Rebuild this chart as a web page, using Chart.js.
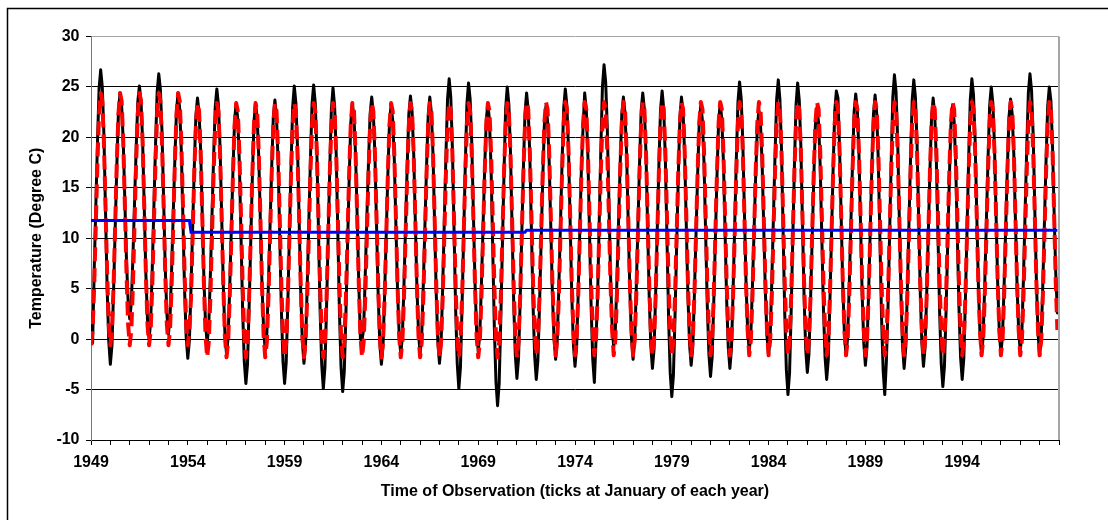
<!DOCTYPE html>
<html>
<head>
<meta charset="utf-8">
<script src="https://cdn.jsdelivr.net/npm/chart.js@4.4.1/dist/chart.umd.min.js"></script>
<style>
html,body{margin:0;padding:0;background:#ffffff;}
#wrap{position:relative;width:1108px;height:520px;}
</style>
</head>
<body>
<div id="wrap"><canvas id="chart"></canvas></div>
<script>
// ---- DATA ----
const yearLabels = ['1949','1954','1959','1964','1969','1974','1979','1984','1989','1994'];
const monthsPerYear = 12;

// Observed monthly temperature (Degree C), one row per year Jan..Dec, 1949-1998
const observed = [
  [2.5, -0.4, 6.9, 13.2, 19.4, 24.8, 26.7, 25.0, 20.3, 12.7, 5.1, -0.2],
  [-2.5, -0.6, 4.8, 11.0, 17.1, 22.5, 24.4, 23.1, 19.5, 13.6, 7.8, 3.8],
  [2.0, 3.6, 8.2, 13.6, 18.9, 23.5, 25.1, 23.6, 19.6, 13.1, 6.5, 2.0],
  [0.0, 1.8, 7.1, 13.2, 19.2, 24.5, 26.3, 24.8, 20.6, 13.9, 7.2, 2.6],
  [0.5, 2.2, 7.0, 12.5, 17.9, 22.7, 24.4, 22.8, 18.6, 11.8, 4.9, 0.2],
  [-1.9, -0.1, 5.1, 11.0, 16.9, 22.1, 23.9, 22.4, 18.6, 12.2, 5.9, 1.5],
  [-0.4, 1.4, 6.4, 12.2, 18.0, 23.0, 24.8, 23.2, 19.0, 12.2, 5.3, 0.6],
  [-1.5, 0.2, 5.2, 11.0, 16.7, 21.7, 23.4, 21.7, 17.3, 10.1, 2.8, -2.2],
  [-4.4, -2.5, 3.1, 9.5, 15.9, 21.5, 23.4, 21.9, 18.0, 11.6, 5.3, 0.9],
  [-1.1, 0.6, 5.6, 11.3, 17.0, 22.0, 23.7, 22.0, 17.5, 10.2, 2.9, -2.2],
  [-4.4, -2.3, 3.6, 10.4, 17.1, 23.0, 25.1, 23.4, 19.0, 11.9, 4.7, -0.2],
  [-2.4, -0.5, 5.1, 11.4, 17.7, 23.3, 25.2, 23.4, 18.6, 10.8, 2.9, -2.5],
  [-4.9, -2.8, 3.1, 10.0, 16.9, 22.8, 24.9, 23.1, 18.3, 10.5, 2.6, -2.8],
  [-5.2, -3.2, 2.5, 9.1, 15.7, 21.4, 23.4, 22.0, 18.2, 12.1, 5.5, 0.0],
  [-0.1, 1.0, 6.4, 12.0, 17.5, 22.3, 24.0, 22.4, 18.2, 11.3, 4.4, -0.4],
  [-2.5, -0.7, 4.4, 10.4, 16.3, 21.4, 23.2, 21.7, 17.8, 11.3, 4.9, 0.5],
  [-1.5, 0.3, 5.4, 11.3, 17.2, 22.3, 24.1, 22.6, 18.5, 11.9, 5.2, 0.6],
  [-1.4, 0.4, 5.5, 11.3, 17.1, 22.2, 24.0, 22.4, 18.2, 11.3, 4.5, -0.3],
  [-2.4, -0.4, 5.2, 11.7, 18.2, 23.8, 25.8, 24.0, 19.0, 11.1, 3.1, -2.4],
  [-4.9, -2.8, 3.3, 10.3, 17.2, 23.3, 25.4, 23.8, 19.5, 12.6, 5.7, 0.9],
  [-1.2, 0.5, 5.4, 11.1, 16.8, 21.7, 23.4, 21.6, 16.8, 9.0, 1.2, -4.2],
  [-6.6, -4.4, 1.9, 9.2, 16.5, 22.8, 25.0, 23.3, 18.6, 11.1, 3.6, -1.6],
  [-3.9, -1.9, 3.7, 10.3, 16.8, 22.4, 24.4, 22.7, 18.2, 10.8, 3.4, -1.7],
  [-4.0, -2.1, 3.3, 9.6, 15.8, 21.2, 23.1, 21.6, 17.6, 11.1, 4.5, 0.0],
  [-2.0, -0.1, 5.2, 11.4, 17.6, 22.9, 24.8, 23.1, 18.7, 11.6, 4.4, -0.5],
  [-2.7, -0.8, 4.6, 10.9, 17.1, 21.0, 24.4, 22.7, 18.1, 10.6, 3.2, -2.0],
  [-4.3, -0.2, 4.2, 11.5, 18.7, 25.0, 27.2, 25.5, 21.0, 13.8, 6.5, 1.4],
  [-0.8, 0.9, 5.9, 11.6, 17.3, 22.3, 24.0, 22.4, 18.3, 11.5, 4.8, 0.1],
  [-2.0, -0.2, 5.1, 11.2, 17.3, 22.6, 24.4, 22.8, 18.4, 11.3, 4.2, -0.7],
  [-2.9, -1.0, 4.5, 10.9, 17.2, 22.7, 24.6, 22.8, 17.9, 10.1, 2.2, -3.3],
  [-5.7, -3.6, 2.3, 9.2, 16.0, 21.9, 24.0, 22.4, 18.1, 11.2, 4.3, -0.5],
  [-2.6, -0.8, 4.4, 10.3, 16.2, 21.4, 23.2, 21.6, 17.3, 10.3, 3.3, -1.5],
  [-3.7, -1.8, 3.6, 9.9, 16.1, 21.5, 23.4, 21.8, 17.6, 10.8, 3.9, -0.8],
  [-2.9, -0.9, 4.8, 11.3, 17.8, 23.5, 25.5, 23.9, 19.6, 12.7, 5.7, 0.9],
  [-1.2, 0.5, 5.3, 10.8, 16.2, 21.0, 22.7, 21.2, 17.4, 11.0, 4.7, 0.3],
  [-1.6, 0.3, 5.8, 12.1, 18.3, 23.8, 25.7, 23.8, 18.8, 10.7, 2.6, -3.0],
  [-5.5, -3.3, 2.8, 10.0, 17.1, 23.2, 25.4, 23.7, 19.1, 11.6, 4.2, -1.0],
  [-3.3, -1.5, 3.8, 9.9, 15.9, 21.2, 23.0, 21.4, 17.1, 10.0, 3.0, -1.8],
  [-4.0, -2.0, 3.7, 10.3, 16.9, 22.6, 24.6, 23.9, 18.8, 12.0, 5.2, 0.5],
  [-1.6, 0.2, 5.4, 11.4, 17.3, 22.5, 24.3, 22.7, 18.4, 11.4, 4.4, -0.4],
  [-2.6, -0.7, 4.6, 10.8, 17.0, 22.3, 24.2, 22.4, 17.7, 9.9, 2.2, -3.1],
  [-5.5, -2.2, 3.1, 10.4, 17.6, 24.0, 26.2, 24.5, 19.8, 12.2, 4.7, -0.6],
  [-2.9, -0.9, 4.8, 11.4, 18.0, 23.7, 25.7, 24.0, 19.5, 12.1, 4.7, -0.4],
  [-2.7, -0.8, 4.5, 10.6, 16.7, 22.0, 23.9, 22.2, 17.6, 10.2, 2.7, -2.4],
  [-4.7, -2.7, 2.8, 9.3, 15.7, 21.2, 23.2, 21.6, 17.2, 10.1, 3.1, -1.8],
  [-4.0, -1.9, 4.0, 10.9, 17.8, 23.7, 25.8, 24.2, 19.8, 12.6, 5.5, 0.6],
  [-1.6, 0.3, 5.6, 11.7, 17.8, 23.1, 25.0, 23.4, 19.2, 12.3, 5.5, 0.7],
  [-1.4, 0.4, 5.4, 11.2, 17.0, 22.0, 23.8, 22.3, 18.3, 11.8, 5.3, 0.8],
  [-1.2, 0.7, 6.2, 12.6, 18.9, 24.4, 26.3, 24.6, 20.2, 12.9, 5.7, 0.6],
  [-1.6, 0.3, 5.6, 11.7, 17.8, 23.1, 25.0, 23.6, 19.0, 12.4, 6.5, 2.6]
];

// Modelled monthly temperature (red dashed), one row per year Jan..Dec, 1949-1998
const modelled = [
  [-0.6, 0.9, 5.4, 11.5, 17.6, 22.3, 24.4, 23.6, 19.5, 13.2, 6.6, 1.5],
  [-0.6, 0.9, 5.4, 11.5, 17.6, 22.3, 24.4, 23.6, 19.5, 13.2, 6.6, 1.5],
  [-0.6, 0.9, 5.4, 11.5, 17.6, 22.3, 24.4, 23.6, 19.5, 13.2, 6.6, 1.5],
  [-0.6, 0.9, 5.4, 11.5, 17.6, 22.3, 24.4, 23.6, 19.5, 13.2, 6.6, 1.5],
  [-0.6, 0.9, 5.4, 11.5, 17.6, 22.3, 24.4, 23.6, 19.5, 13.2, 6.6, 1.5],
  [-0.6, 0.9, 4.1, 10.2, 16.4, 21.2, 23.4, 22.6, 18.4, 12.0, 5.4, 0.3],
  [-1.8, -0.3, 4.1, 10.2, 16.4, 21.2, 23.4, 22.6, 18.4, 12.0, 5.4, 0.3],
  [-1.8, -0.3, 4.1, 10.2, 16.4, 21.2, 23.4, 22.6, 18.4, 12.0, 5.4, 0.3],
  [-1.8, -0.3, 4.1, 10.2, 16.4, 21.2, 23.4, 22.6, 18.4, 12.0, 5.4, 0.3],
  [-1.8, -0.3, 4.1, 10.2, 16.4, 21.2, 23.4, 22.6, 18.4, 12.0, 5.4, 0.3],
  [-1.8, -0.3, 4.1, 10.2, 16.4, 21.2, 23.4, 22.6, 18.4, 12.0, 5.4, 0.3],
  [-1.8, -0.3, 4.1, 10.2, 16.4, 21.2, 23.4, 22.6, 18.4, 12.0, 5.4, 0.3],
  [-1.8, -0.3, 4.1, 10.2, 16.4, 21.2, 23.4, 22.6, 18.4, 12.0, 5.4, 0.3],
  [-1.8, -0.3, 4.1, 10.2, 16.4, 21.2, 23.4, 22.6, 18.4, 12.0, 5.4, 0.3],
  [-1.8, -0.3, 4.1, 10.2, 16.4, 21.2, 23.4, 22.6, 18.4, 12.0, 5.4, 0.3],
  [-1.8, -0.3, 4.1, 10.2, 16.4, 21.2, 23.4, 22.6, 18.4, 12.0, 5.4, 0.3],
  [-1.8, -0.3, 4.1, 10.2, 16.4, 21.2, 23.4, 22.6, 18.4, 12.0, 5.4, 0.3],
  [-1.8, -0.3, 4.1, 10.2, 16.4, 21.2, 23.4, 22.6, 18.4, 12.0, 5.4, 0.3],
  [-1.8, -0.3, 4.1, 10.2, 16.4, 21.2, 23.4, 22.6, 18.4, 12.0, 5.4, 0.3],
  [-1.8, -0.3, 4.1, 10.2, 16.4, 21.2, 23.4, 22.6, 18.4, 12.0, 5.4, 0.3],
  [-1.8, -0.3, 4.1, 10.2, 16.4, 21.2, 23.4, 22.6, 18.4, 12.0, 5.4, 0.3],
  [-1.8, -0.3, 4.1, 10.2, 16.4, 21.2, 23.4, 22.6, 18.4, 12.0, 5.4, 0.3],
  [-1.8, -0.3, 4.1, 10.2, 16.4, 21.2, 23.5, 22.8, 18.6, 12.2, 5.6, 0.9],
  [-1.6, -0.1, 4.3, 10.4, 16.6, 21.4, 23.5, 22.8, 18.6, 12.2, 5.6, 0.9],
  [-1.6, -0.1, 4.3, 10.4, 16.6, 21.4, 23.5, 22.8, 18.6, 12.2, 5.6, 0.9],
  [-1.6, -0.1, 4.3, 10.4, 16.6, 21.4, 23.5, 22.8, 18.6, 12.2, 5.6, 0.9],
  [-1.6, -0.1, 4.3, 10.4, 16.6, 21.4, 23.5, 22.8, 18.6, 12.2, 5.6, 0.9],
  [-1.6, -0.1, 4.3, 10.4, 16.6, 21.4, 23.5, 22.8, 18.6, 12.2, 5.6, 0.9],
  [-1.6, -0.1, 4.3, 10.4, 16.6, 21.4, 23.5, 22.8, 18.6, 12.2, 5.6, 0.9],
  [-1.6, -0.1, 4.3, 10.4, 16.6, 21.4, 23.5, 22.8, 18.6, 12.2, 5.6, 0.9],
  [-1.6, -0.1, 4.3, 10.4, 16.6, 21.4, 23.5, 22.8, 18.6, 12.2, 5.6, 0.9],
  [-1.6, -0.1, 4.3, 10.4, 16.6, 21.4, 23.5, 22.8, 18.6, 12.2, 5.6, 0.9],
  [-1.6, -0.1, 4.3, 10.4, 16.6, 21.4, 23.5, 22.8, 18.6, 12.2, 5.6, 0.9],
  [-1.6, -0.1, 4.3, 10.4, 16.6, 21.4, 23.5, 22.8, 18.6, 12.2, 5.6, 0.9],
  [-1.6, -0.1, 4.3, 10.4, 16.6, 21.4, 23.5, 22.8, 18.6, 12.2, 5.6, 0.9],
  [-1.6, -0.1, 4.3, 10.4, 16.6, 21.4, 23.5, 22.8, 18.6, 12.2, 5.6, 0.9],
  [-1.6, -0.1, 4.3, 10.4, 16.6, 21.4, 23.5, 22.8, 18.6, 12.2, 5.6, 0.9],
  [-1.6, -0.1, 4.3, 10.4, 16.6, 21.4, 23.5, 22.8, 18.6, 12.2, 5.6, 0.9],
  [-1.6, -0.1, 4.3, 10.4, 16.6, 21.4, 23.5, 22.8, 18.6, 12.2, 5.6, 0.9],
  [-1.6, -0.1, 4.3, 10.4, 16.6, 21.4, 23.5, 22.8, 18.6, 12.2, 5.6, 0.9],
  [-1.6, -0.1, 4.3, 10.4, 16.6, 21.4, 23.5, 22.8, 18.6, 12.2, 5.6, 0.9],
  [-1.6, -0.1, 4.3, 10.4, 16.6, 21.4, 23.5, 22.8, 18.6, 12.2, 5.6, 0.9],
  [-1.6, -0.1, 4.3, 10.4, 16.6, 21.4, 23.5, 22.8, 18.6, 12.2, 5.6, 0.9],
  [-1.6, -0.1, 4.3, 10.4, 16.6, 21.4, 23.5, 22.8, 18.6, 12.2, 5.6, 0.9],
  [-1.6, -0.1, 4.3, 10.4, 16.6, 21.4, 23.5, 22.8, 18.6, 12.2, 5.6, 0.9],
  [-1.6, -0.1, 4.3, 10.4, 16.6, 21.4, 23.5, 22.8, 18.6, 12.2, 5.6, 0.9],
  [-1.6, -0.1, 4.3, 10.4, 16.6, 21.4, 23.5, 22.8, 18.6, 12.2, 5.6, 0.9],
  [-1.6, -0.1, 4.3, 10.4, 16.6, 21.4, 23.5, 22.8, 18.6, 12.2, 5.6, 0.9],
  [-1.6, -0.1, 4.3, 10.4, 16.6, 21.4, 23.5, 22.8, 18.6, 12.2, 5.6, 0.9],
  [-1.6, -0.1, 4.3, 10.4, 16.6, 21.4, 23.5, 22.8, 18.6, 12.2, 5.6, 0.9]
];

// Mean level (blue step line): month index since Jan 1949 and level
const meanMonth = [0, 61, 62, 269, 270, 599];
const meanValue = [11.75, 11.75, 10.6, 10.6, 10.8, 10.8];

const yMin = -10, yMax = 30, yStep = 5;
const totalMonths = observed.length * monthsPerYear;

// ---- BUILD ----
const toPoints = rows => rows.flat().map((v, i) => ({ x: i, y: v }));
const meanPoints = meanMonth.map((m, i) => ({ x: m, y: meanValue[i] }));

const frame = {
  id: 'frame',
  beforeDraw(chart) {
    const c = chart.ctx;
    c.save();
    c.strokeStyle = '#000000';
    c.lineWidth = 1.5;
    c.beginPath();
    c.moveTo(7.5, 520);
    c.lineTo(7.5, 8.5);
    c.lineTo(1108, 8.5);
    c.stroke();
    c.restore();
  },
  afterDraw(chart) {
    const a = chart.chartArea;
    const c = chart.ctx;
    c.save();
    c.strokeStyle = '#a6a6a6';
    c.lineWidth = 2;
    c.beginPath();
    c.moveTo(a.right, a.top);
    c.lineTo(a.right, a.bottom);
    c.stroke();
    c.restore();
  }
};

Chart.defaults.font.family = "'Liberation Sans', Arial, sans-serif";
Chart.defaults.font.size = 16;
Chart.defaults.font.weight = 'bold';
Chart.defaults.color = '#000000';

new Chart(document.getElementById('chart'), {
  type: 'line',
  data: {
    datasets: [
      {
        label: 'Mean level',
        data: meanPoints,
        borderColor: '#0000FF',
        borderWidth: 3,
        pointRadius: 0,
        fill: false,
        tension: 0,
        order: 0
      },
      {
        label: 'Modelled',
        data: toPoints(modelled),
        borderColor: '#FF0000',
        borderWidth: 4,
        borderDash: [14, 7],
        borderCapStyle: 'butt',
        borderJoinStyle: 'round',
        pointRadius: 0,
        fill: false,
        tension: 0,
        order: 1
      },
      {
        label: 'Observed',
        data: toPoints(observed),
        borderColor: '#000000',
        borderWidth: 3,
        borderJoinStyle: 'round',
        borderCapStyle: 'round',
        pointRadius: 0,
        fill: false,
        tension: 0,
        order: 2
      }
    ]
  },
  options: {
    responsive: true,
    maintainAspectRatio: false,
    devicePixelRatio: 1,
    animation: false,
    layout: { padding: { left: 0, right: 49, top: 36.5, bottom: 0 } },
    plugins: {
      legend: { display: false },
      tooltip: { enabled: false },
      title: { display: false }
    },
    scales: {
      x: {
        type: 'linear',
        min: 0,
        max: totalMonths,
        afterFit(scale) { scale.height = 80; },
        ticks: {
          stepSize: monthsPerYear,
          autoSkip: false,
          maxRotation: 0,
          padding: 8,
          callback: v => (v % 60 === 0 && yearLabels[v / 60] !== undefined) ? yearLabels[v / 60] : ''
        },
        grid: { display: true, drawOnChartArea: false, drawTicks: true, tickLength: 5, color: '#000000' },
        border: { display: true, color: '#000000', width: 1 },
        title: {
          display: true,
          text: 'Time of Observation (ticks at January of each year)',
          font: { size: 16, weight: 'bold' },
          padding: { top: 0, bottom: 18.7 }
        }
      },
      y: {
        type: 'linear',
        min: yMin,
        max: yMax,
        afterFit(scale) { scale.width = 91; },
        ticks: { stepSize: yStep, padding: 6.5 },
        grid: {
          color: ctx => (ctx.tick && ctx.tick.value === yMax) ? '#a6a6a6' : '#000000',
          tickColor: '#000000',
          tickLength: 5,
          drawTicks: true
        },
        border: { display: true, color: '#777777', width: 1 },
        title: {
          display: true,
          text: 'Temperature (Degree C)',
          font: { size: 16, weight: 'bold' },
          padding: { top: 27.4, bottom: 0 }
        }
      }
    }
  },
  plugins: [frame]
});
</script>
</body>
</html>
